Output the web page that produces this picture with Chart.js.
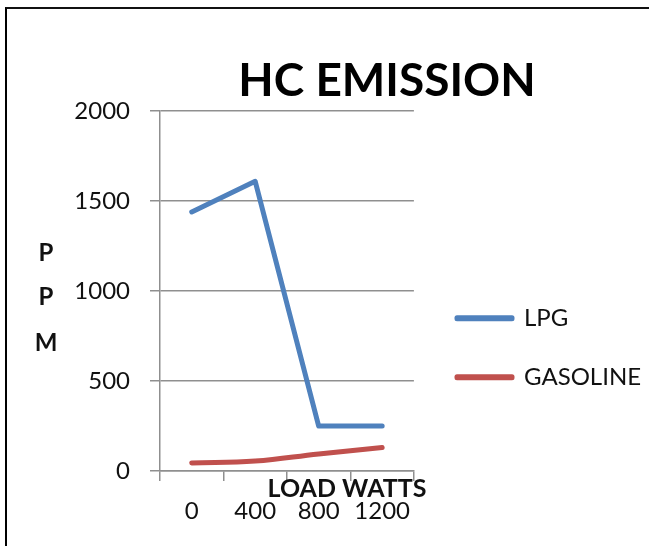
<!DOCTYPE html>
<html><head><meta charset="utf-8">
<script src="https://cdn.jsdelivr.net/npm/chart.js@4.4.1/dist/chart.umd.min.js"></script>
<style>
html,body{margin:0;padding:0;background:#fff;overflow:hidden;}
#wrap{position:relative;width:649px;height:546px;overflow:hidden;}
#frame{position:absolute;left:5px;top:7px;width:700px;height:600px;border-left:2px solid #000;border-top:2px solid #111;pointer-events:none;}
canvas{position:absolute;left:0;top:0;}
</style></head><body>
<div id="wrap"><canvas id="c" width="649" height="546"></canvas><div id="frame"></div></div>
<script>
// ---- data ----
const categories = ['0', '400', '800', '1200'];
const lpgValues = [1440, 1610, 250, 250];
const gasolineValues = [45, 55, 95, 130];
const seriesNames = ['LPG', 'GASOLINE'];
const yTickValues = [0, 500, 1000, 1500, 2000];
const chartTitle = 'HC EMISSION';
const xAxisTitle = 'LOAD WATTS';
const yAxisTitleLetters = ['P', 'P', 'M'];

// ---- style ----
const BLUE = '#4F81BD';
const RED = '#C0504D';
const GRID = '#8f8f8f';
const FONT = 'Lato';

const placePlugin = {
  id: 'placeBoxes',
  afterLayout(chart) {
    const ca = chart.chartArea;
    if (chart.titleBlock) { chart.titleBlock.left = 125; chart.titleBlock.right = 649; }
    const lg = chart.legend;
    if (lg) {
      const pad = lg.options.labels.padding;
      lg.left = ca.left + 297 - pad;
      lg.right = lg.left + 240;
      lg.top = ca.top + 195 - pad;
      lg.bottom = 546;
    }
  }
};

const textPlugin = {
  id: 'extraText',
  afterDraw(chart) {
    const ctx = chart.ctx, ca = chart.chartArea;
    ctx.save();
    ctx.fillStyle = '#111';
    ctx.textAlign = 'center';
    ctx.textBaseline = 'middle';
    ctx.font = 'bold 24px ' + FONT;
    const ys = [253, 297, 343];
    yAxisTitleLetters.forEach((ch, i) => ctx.fillText(ch, ca.left - 114, ys[i]));
    ctx.font = 'bold 25px ' + FONT;
    ctx.fillText(xAxisTitle, ca.left + 187, ca.bottom + 18);
    ctx.restore();
  }
};

function build() {
  Chart.defaults.font.family = FONT;
  Chart.defaults.color = '#111';
  new Chart(document.getElementById('c'), {
    type: 'line',
    data: {
      labels: categories,
      datasets: [
        { label: seriesNames[0], data: lpgValues, borderColor: BLUE, backgroundColor: BLUE,
          borderWidth: 5, pointRadius: 0, tension: 0, borderCapStyle: 'round', borderJoinStyle: 'round' },
        { label: seriesNames[1], data: gasolineValues, borderColor: RED, backgroundColor: RED,
          borderWidth: 5, pointRadius: 0, tension: 0.4, borderCapStyle: 'round', borderJoinStyle: 'round' }
      ]
    },
    options: {
      responsive: false,
      animation: false,
      devicePixelRatio: 1,
      layout: { padding: { left: 0, top: 0, bottom: 0, right: 6 } },
      plugins: {
        title: { display: true, text: chartTitle, color: '#000',
                 font: { family: FONT, size: 46, weight: 'bold' }, padding: { top: 54, bottom: 2 } },
        legend: { display: true, position: 'right', align: 'start', maxWidth: 236,
                  labels: { boxWidth: 55, boxHeight: 1, padding: 35, color: '#111',
                            font: { family: FONT, size: 24 } } },
        tooltip: { enabled: false }
      },
      scales: {
        x: {
          offset: true,
          grid: { offset: true, drawOnChartArea: false, drawTicks: true, tickLength: 10, color: GRID, lineWidth: 1.5 },
          border: { display: true, color: GRID, width: 1.5 },
          ticks: { padding: 16, color: '#111', font: { family: FONT, size: 24 }, maxRotation: 0 },
          afterFit(s) { s.height = 75; }
        },
        y: {
          min: 0, max: 2000,
          afterBuildTicks(s) { s.ticks = yTickValues.map(v => ({ value: v })); },
          grid: { color: GRID, lineWidth: 1.5, tickLength: 10 },
          border: { display: true, color: GRID, width: 1.5 },
          ticks: { padding: 20, color: '#111', font: { family: FONT, size: 24 },
                   callback: v => String(v) },
          afterFit(s) { s.width = 160; }
        }
      }
    },
    plugins: [placePlugin, textPlugin]
  });
}
if (document.fonts && document.fonts.load) {
  Promise.all([document.fonts.load('24px Lato'), document.fonts.load('bold 24px Lato')]).then(build, build);
} else { build(); }
</script>
</body></html>
